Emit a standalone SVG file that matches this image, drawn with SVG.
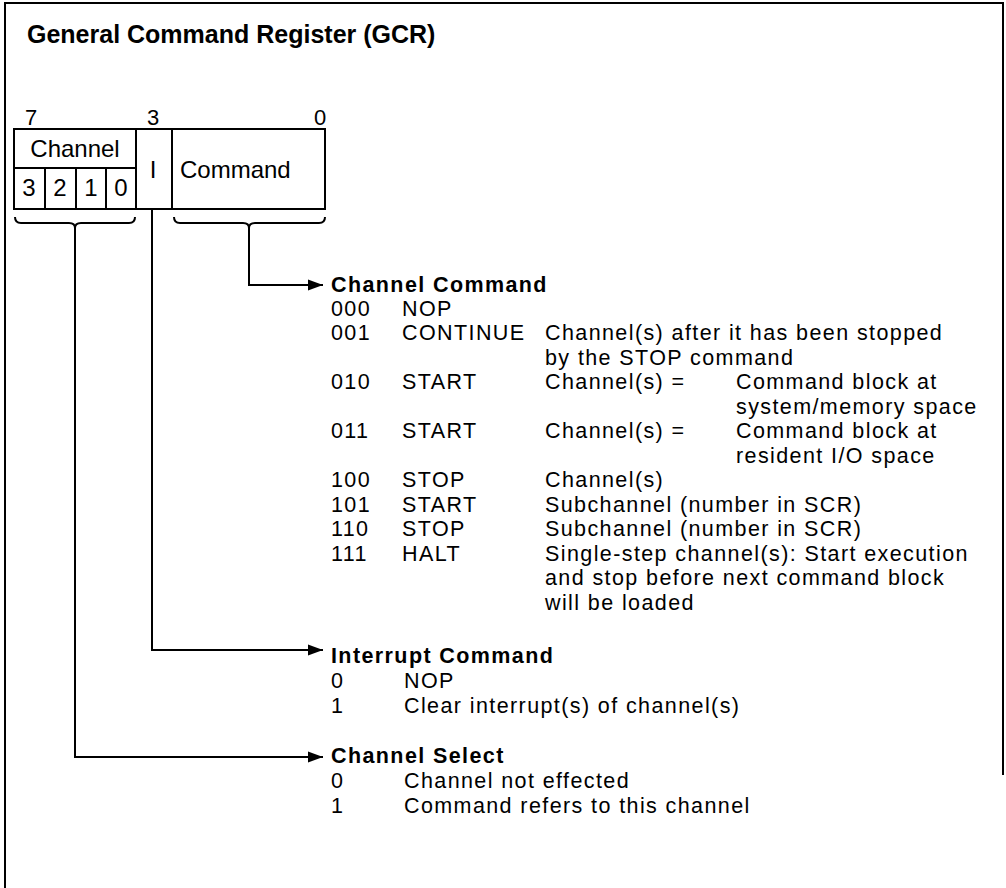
<svg xmlns="http://www.w3.org/2000/svg" width="1006" height="888" viewBox="0 0 1006 888">
<style>
text{font-family:"Liberation Sans",Arial,sans-serif;font-size:24px;fill:#000}
.t{font-size:21.5px;letter-spacing:1.4px}
.b{font-weight:bold}
.ln{fill:none;stroke:#000;stroke-width:2}
.c{text-anchor:middle}
</style>
<defs>
<marker id="ah" markerWidth="16" markerHeight="12" refX="15" refY="6" orient="auto" markerUnits="userSpaceOnUse">
<path d="M0,0.5 L15,6 L0,11.5 Z" fill="#000"/>
</marker>
</defs>
<rect width="1006" height="888" fill="#fff"/>
<g id="frame">
<path class="ln" d="M5,888 V3 H1003 V775"/>
</g>
<g id="title"><text class="b" x="27" y="43" style="font-size:25px">General Command Register (GCR)</text></g>
<g id="register">
<text x="31" y="125" class="c" style="font-size:22px">7</text>
<text x="153" y="125" class="c" style="font-size:22px">3</text>
<text x="320" y="125" class="c" style="font-size:22px">0</text>
<rect class="ln" x="14" y="129" width="311" height="80"/>
<line class="ln" x1="14" y1="168" x2="136" y2="168"/>
<line class="ln" x1="136" y1="129" x2="136" y2="209"/>
<line class="ln" x1="172" y1="129" x2="172" y2="209"/>
<line class="ln" x1="45" y1="168" x2="45" y2="209"/>
<line class="ln" x1="76" y1="168" x2="76" y2="209"/>
<line class="ln" x1="106" y1="168" x2="106" y2="209"/>
<text x="75" y="157" class="c">Channel</text>
<text x="29" y="196" class="c">3</text>
<text x="60" y="196" class="c">2</text>
<text x="91" y="196" class="c">1</text>
<text x="121" y="196" class="c">0</text>
<text x="153" y="178" class="c">I</text>
<text x="180" y="178">Command</text>
</g>
<g id="connectors">
<path class="ln" d="M15,217 Q15,223 21,223 H69 Q75,223 75,228 Q75,223 81,223 H129 Q135,223 135,217"/>
<path class="ln" d="M174,217 Q174,223 180,223 H243 Q249,223 249,228 Q249,223 255,223 H319 Q325,223 325,217"/>
<path class="ln" d="M249,228 V285 H323" marker-end="url(#ah)"/>
<path class="ln" d="M152,209 V650 H323" marker-end="url(#ah)"/>
<path class="ln" d="M75,228 V757 H323" marker-end="url(#ah)"/>
</g>
<g id="channel-command">
<text class="t b" x="331" y="292">Channel Command</text>
<text class="t" x="331" y="316">000</text><text class="t" x="402" y="316">NOP</text>
<text class="t" x="331" y="340">001</text><text class="t" x="402" y="340">CONTINUE</text><text class="t" x="545" y="340">Channel(s) after it has been stopped</text>
<text class="t" x="545" y="365">by the STOP command</text>
<text class="t" x="331" y="389">010</text><text class="t" x="402" y="389">START</text><text class="t" x="545" y="389">Channel(s) =</text><text class="t" x="736" y="389">Command block at</text>
<text class="t" x="736" y="414">system/memory space</text>
<text class="t" x="331" y="438">011</text><text class="t" x="402" y="438">START</text><text class="t" x="545" y="438">Channel(s) =</text><text class="t" x="736" y="438">Command block at</text>
<text class="t" x="736" y="463">resident I/O space</text>
<text class="t" x="331" y="487">100</text><text class="t" x="402" y="487">STOP</text><text class="t" x="545" y="487">Channel(s)</text>
<text class="t" x="331" y="512">101</text><text class="t" x="402" y="512">START</text><text class="t" x="545" y="512">Subchannel (number in SCR)</text>
<text class="t" x="331" y="536">110</text><text class="t" x="402" y="536">STOP</text><text class="t" x="545" y="536">Subchannel (number in SCR)</text>
<text class="t" x="331" y="561">111</text><text class="t" x="402" y="561">HALT</text><text class="t" x="545" y="561">Single-step channel(s): Start execution</text>
<text class="t" x="545" y="585">and stop before next command block</text>
<text class="t" x="545" y="610">will be loaded</text>
</g>
<g id="interrupt-command">
<text class="t b" x="331" y="663">Interrupt Command</text>
<text class="t" x="331" y="688">0</text><text class="t" x="404" y="688">NOP</text>
<text class="t" x="331" y="713">1</text><text class="t" x="404" y="713">Clear interrupt(s) of channel(s)</text>
</g>
<g id="channel-select">
<text class="t b" x="331" y="763">Channel Select</text>
<text class="t" x="331" y="788">0</text><text class="t" x="404" y="788">Channel not effected</text>
<text class="t" x="331" y="813">1</text><text class="t" x="404" y="813">Command refers to this channel</text>
</g>
</svg>
